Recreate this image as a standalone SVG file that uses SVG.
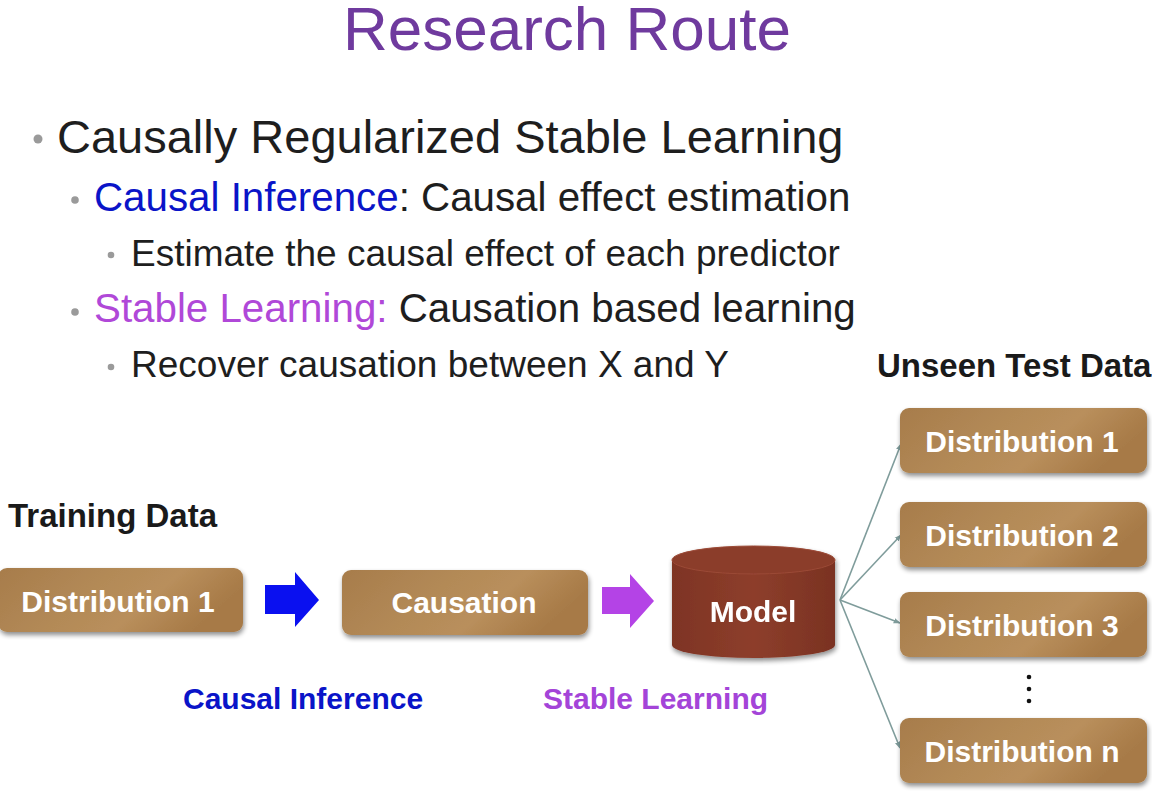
<svg xmlns="http://www.w3.org/2000/svg" width="1152" height="792" viewBox="0 0 1152 792">
  <style>
    .sans { font-family: "Liberation Sans", Arial, sans-serif; }
    .title { font-size: 62px; fill: #6f3a9e; }
    .l1 { font-size: 47px; fill: #1e1e1e; }
    .l2 { font-size: 40.3px; fill: #1e1e1e; }
    .l3 { font-size: 37px; fill: #1e1e1e; }
    .blue { fill: #0a14c8; }
    .violet { fill: #b048d8; }
    .dot { fill: #9a9a9a; }
    .hdr { font-size: 33px; font-weight: bold; fill: #1a1a1a; }
    .box { fill: url(#boxFill); filter: url(#shadow); }
    .boxText { font-size: 30px; font-weight: bold; fill: #ffffff; text-anchor: middle; }
    .lbl { font-size: 30px; font-weight: bold; }
    .link { stroke: #7f9c9b; stroke-width: 1.6; fill: none; marker-end: url(#tip); }
  </style>
  <defs>
    <linearGradient id="boxFill" x1="0" y1="0" x2="1" y2="0.3">
      <stop offset="0" stop-color="#a77c4b"/>
      <stop offset="0.45" stop-color="#b38a57"/>
      <stop offset="0.7" stop-color="#b98f5c"/>
      <stop offset="1" stop-color="#a77a47"/>
    </linearGradient>
    <linearGradient id="cylFill" x1="0" y1="0" x2="1" y2="0">
      <stop offset="0" stop-color="#7e3424"/>
      <stop offset="0.5" stop-color="#8d3e2b"/>
      <stop offset="1" stop-color="#7a3222"/>
    </linearGradient>
    <filter id="shadow" x="-10%" y="-20%" width="120%" height="150%">
      <feGaussianBlur in="SourceAlpha" stdDeviation="2.5"/>
      <feOffset dx="1" dy="3" result="b"/>
      <feComponentTransfer><feFuncA type="linear" slope="0.45"/></feComponentTransfer>
      <feMerge><feMergeNode/><feMergeNode in="SourceGraphic"/></feMerge>
    </filter>
    <marker id="tip" viewBox="0 0 10 10" refX="9" refY="5" markerWidth="7" markerHeight="7" orient="auto" markerUnits="userSpaceOnUse">
      <path d="M0,1 L10,5 L0,9 z" fill="#7f9c9b"/>
    </marker>
  </defs>

  <rect width="1152" height="792" fill="#ffffff"/>

  <!-- title -->
  <text class="sans title" x="567" y="50" text-anchor="middle">Research Route</text>

  <!-- bullet list -->
  <g id="bullets" class="sans">
    <circle class="dot" cx="38" cy="139" r="4.5"/>
    <text class="l1" x="57" y="153">Causally Regularized Stable Learning</text>
    <circle class="dot" cx="75" cy="200" r="3.8"/>
    <text class="l2" x="94" y="211"><tspan class="blue">Causal Inference</tspan>: Causal effect estimation</text>
    <circle class="dot" cx="111" cy="255" r="3.3"/>
    <text class="l3" x="131" y="266">Estimate the causal effect of each predictor</text>
    <circle class="dot" cx="75" cy="312" r="3.8"/>
    <text class="l2" x="94" y="322"><tspan class="violet">Stable Learning:</tspan> Causation based learning</text>
    <circle class="dot" cx="111" cy="367" r="3.3"/>
    <text class="l3" x="131" y="377">Recover causation between X and Y</text>
  </g>

  <!-- section headings -->
  <text class="sans hdr" x="8" y="527">Training Data</text>
  <text class="sans hdr" x="877" y="377">Unseen Test Data</text>

  <!-- connectors -->
  <g id="connectors">
    <path d="M265,585 H295 V572 L319,600 L295,627 V614 H265 Z" fill="#0a10f0"/>
    <path d="M602,587 H630 V574 L654,601 L630,628 V614 H602 Z" fill="#b443e6"/>
    <line class="link" x1="840" y1="600" x2="901" y2="444"/>
    <line class="link" x1="840" y1="600" x2="901" y2="535"/>
    <line class="link" x1="840" y1="600" x2="900" y2="623"/>
    <line class="link" x1="840" y1="600" x2="900" y2="748"/>
  </g>

  <!-- nodes -->
  <g id="train-dist1">
    <rect class="box" x="-2" y="568" width="245" height="64" rx="9"/>
    <text class="sans boxText" x="118" y="612">Distribution 1</text>
  </g>
  <g id="causation">
    <rect class="box" x="342" y="570" width="246" height="65" rx="9"/>
    <text class="sans boxText" x="464" y="613">Causation</text>
  </g>
  <g id="model" filter="url(#shadow)">
    <path d="M672,560 V645 A81.5,13 0 0 0 835,645 V560 Z" fill="url(#cylFill)"/>
    <ellipse cx="753.5" cy="560" rx="81.5" ry="14" fill="#8b3c2a" stroke="#9b4a36" stroke-width="1"/>
    <text class="sans boxText" x="753" y="622" font-size="32">Model</text>
  </g>
  <g id="test-dist1">
    <rect class="box" x="900" y="408" width="247" height="65" rx="9"/>
    <text class="sans boxText" x="1022" y="452">Distribution 1</text>
  </g>
  <g id="test-dist2">
    <rect class="box" x="900" y="502" width="247" height="65" rx="9"/>
    <text class="sans boxText" x="1022" y="546">Distribution 2</text>
  </g>
  <g id="test-dist3">
    <rect class="box" x="900" y="592" width="247" height="65" rx="9"/>
    <text class="sans boxText" x="1022" y="636">Distribution 3</text>
  </g>
  <g id="test-distn">
    <rect class="box" x="900" y="718" width="247" height="65" rx="9"/>
    <text class="sans boxText" x="1022" y="762">Distribution n</text>
  </g>

  <!-- vertical ellipsis -->
  <g fill="#111111">
    <circle cx="1029" cy="677" r="2.3"/>
    <circle cx="1029" cy="689" r="2.3"/>
    <circle cx="1029" cy="701" r="2.3"/>
  </g>

  <!-- arrow labels -->
  <text class="sans lbl" x="183" y="709" fill="#0a14c8">Causal Inference</text>
  <text class="sans lbl" x="543" y="709" fill="#a444d8">Stable Learning</text>
</svg>
